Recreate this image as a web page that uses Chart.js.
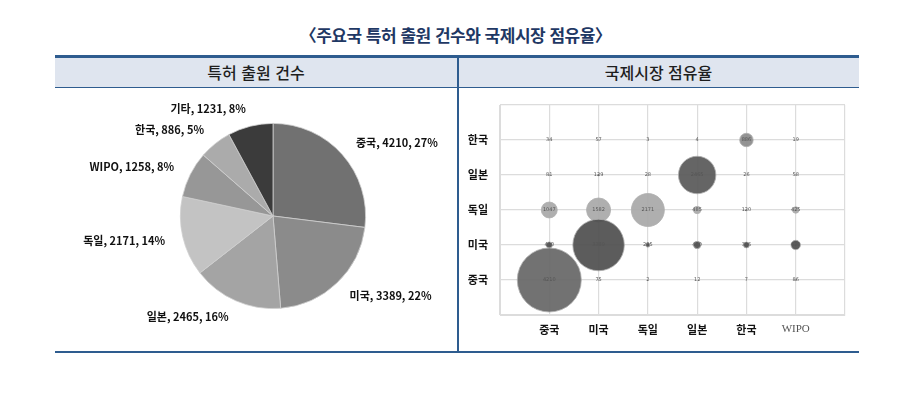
<!DOCTYPE html>
<html lang="ko">
<head>
<meta charset="utf-8">
<script src="https://cdn.jsdelivr.net/npm/chart.js@4.4.1/dist/chart.umd.min.js"></script>
<style>
  html, body { margin: 0; padding: 0; background: #fff; }
  #page { position: relative; width: 911px; height: 393px; overflow: hidden; font-family: 'Noto Sans CJK KR', sans-serif; }
  #title { position: absolute; left: 0; top: 22px; width: 911px; text-align: center; font-size: 17px; font-weight: 700; color: #1f3864; letter-spacing: -0.5px; }
  #topLine { position: absolute; left: 55px; top: 55px; width: 804px; height: 3px; background: #2e5c8f; }
  #head { position: absolute; left: 55px; top: 58px; width: 804px; height: 29px; background: #dfe5ef; border-bottom: 1.5px solid #2e5c8f; }
  .hd { position: absolute; top: 0; height: 29px; line-height: 29px; text-align: center; font-size: 16px; font-weight: 500; color: #1e1e1e; }
  #divider { position: absolute; left: 457px; top: 58px; width: 1.5px; height: 294px; background: #2e5c8f; }
  #bottomLine { position: absolute; left: 55px; top: 351px; width: 804px; height: 2px; background: #2e5c8f; }
  #pieWrap { position: absolute; left: 55px; top: 88px; width: 402px; height: 263px; }
  #bubWrap { position: absolute; left: 458px; top: 72px; width: 420px; height: 276px; }
</style>
</head>
<body>
<div id="page">
  <div id="title">〈주요국 특허 출원 건수와 국제시장 점유율〉</div>
  <div id="topLine"></div>
  <div id="head">
    <div class="hd" style="left:0;width:402px;">특허 출원 건수</div>
    <div class="hd" style="left:403px;width:401px;">국제시장 점유율</div>
  </div>
  <div id="divider"></div>
  <div id="bottomLine"></div>
  <div id="pieWrap"><canvas id="pie" width="402" height="263"></canvas></div>
  <div id="bubWrap"><canvas id="bub" width="420" height="276"></canvas></div>
</div>
<script>
// pie: 특허 출원 건수
const pieLabels = ['중국', '미국', '일본', '독일', 'WIPO', '한국', '기타'];
const pieCounts = [4210, 3389, 2465, 2171, 1258, 886, 1231];
const pieShares = [27, 22, 16, 14, 8, 5, 8];
const pieColors = ['#717171', '#8b8b8b', '#a4a4a4', '#c3c3c3', '#979797', '#ababab', '#3b3b3b'];

// bubble: 국제시장 점유율 (columns = market, rows = applicant country)
const marketCats = ['중국', '미국', '독일', '일본', '한국', 'WIPO'];
const originCats = ['중국', '미국', '독일', '일본', '한국'];
const rowChina   = [4210, 75, 2, 12, 7, 86];
const rowUSA     = [410, 3389, 285, 480, 386, 620];
const rowGermany = [1047, 1582, 2171, 485, 120, 425];
const rowJapan   = [81, 129, 28, 2465, 26, 58];
const rowKorea   = [34, 57, 3, 4, 886, 19];
const rowColors  = ['rgba(102,102,102,0.92)', 'rgba(78,78,78,0.92)', 'rgba(168,168,168,0.92)', 'rgba(88,88,88,0.92)', 'rgba(138,138,138,0.92)'];

const KR = "'Noto Sans CJK KR', 'Noto Sans', sans-serif";
const R_PER_UNIT = 0.0076;

const pieLabelPlugin = {
  id: 'pieLabels',
  afterDatasetsDraw(chart) {
    const ctx = chart.ctx;
    const meta = chart.getDatasetMeta(0);
    ctx.save();
    ctx.font = 'bold 11px ' + KR;
    ctx.fillStyle = '#111';
    ctx.textBaseline = 'middle';
    meta.data.forEach((arc, i) => {
      const mid = (arc.startAngle + arc.endAngle) / 2;
      const rr = arc.outerRadius + 18;
      const x = arc.x + Math.cos(mid) * rr;
      const y = arc.y + Math.sin(mid) * rr;
      const txt = pieLabels[i] + ', ' + pieCounts[i] + ', ' + pieShares[i] + '%';
      ctx.textAlign = Math.cos(mid) >= 0 ? 'left' : 'right';
      ctx.fillText(txt, x, y);
    });
    ctx.restore();
  }
};

new Chart(document.getElementById('pie'), {
  type: 'pie',
  data: {
    labels: pieLabels,
    datasets: [{
      data: pieCounts,
      backgroundColor: pieColors,
      borderColor: '#cfcfcf',
      borderWidth: 0.8,
    }],
  },
  options: {
    responsive: false,
    animation: false,
    events: [],
    layout: { padding: { left: 125, right: 91, top: 35, bottom: 42 } },
    plugins: { legend: { display: false }, tooltip: { enabled: false } },
  },
  plugins: [pieLabelPlugin],
});

const rows = [rowChina, rowUSA, rowGermany, rowJapan, rowKorea];
const bubbleSets = rows.map((vals, ri) => ({
  label: originCats[ri],
  data: vals.map((v, ci) => ({ x: ci + 1, y: ri + 1, r: v * R_PER_UNIT, v })),
  backgroundColor: rowColors[ri],
  borderColor: 'rgba(175,175,175,0.8)',
  borderWidth: 1,
}));

const bubbleTextPlugin = {
  id: 'bubbleText',
  afterDatasetsDraw(chart) {
    const ctx = chart.ctx;
    ctx.save();
    ctx.font = '5px DejaVu Sans';
    ctx.fillStyle = '#555';
    ctx.textAlign = 'center';
    ctx.textBaseline = 'middle';
    chart.data.datasets.forEach((ds, di) => {
      chart.getDatasetMeta(di).data.forEach((pt, i) => {
        ctx.fillText(String(ds.data[i].v), pt.x, pt.y);
      });
    });
    ctx.restore();
  }
};

// bubble overflow (~33px) reserves room on every side, so the canvas is
// made larger than the panel instead of using layout padding
new Chart(document.getElementById('bub'), {
  type: 'bubble',
  data: { datasets: bubbleSets },
  options: {
    responsive: false,
    animation: false,
    events: [],
    clip: false,
    layout: { padding: 0 },
    plugins: { legend: { display: false }, tooltip: { enabled: false } },
    scales: {
      x: {
        type: 'linear', min: 0, max: 7,
        grid: { color: '#dcdcdc', lineWidth: 1.2, drawTicks: false },
        border: { color: '#dcdcdc' },
        afterFit: (s) => { s.height = 32; },
        ticks: {
          stepSize: 1, padding: 8, autoSkip: false, maxRotation: 0,
          callback: (v) => (v >= 1 && v <= 6 ? marketCats[v - 1] : ''),
          font: (c) => (c.tick && c.tick.value === 6
            ? { family: 'Liberation Serif', size: 11, weight: 'normal' }
            : { family: KR, size: 11, weight: 'bold' }),
          color: (c) => (c.tick && c.tick.value === 6 ? '#555' : '#111'),
        },
      },
      y: {
        type: 'linear', min: 0, max: 6,
        grid: { color: '#dcdcdc', lineWidth: 1.2, drawTicks: false },
        border: { color: '#dcdcdc' },
        afterFit: (s) => { s.width = 42; },
        ticks: {
          stepSize: 1, padding: 12, autoSkip: false,
          callback: (v) => (v >= 1 && v <= 5 ? originCats[v - 1] : ''),
          font: { family: KR, size: 11, weight: 'bold' },
          color: '#111',
        },
      },
    },
  },
  plugins: [bubbleTextPlugin],
});
</script>
</body>
</html>
